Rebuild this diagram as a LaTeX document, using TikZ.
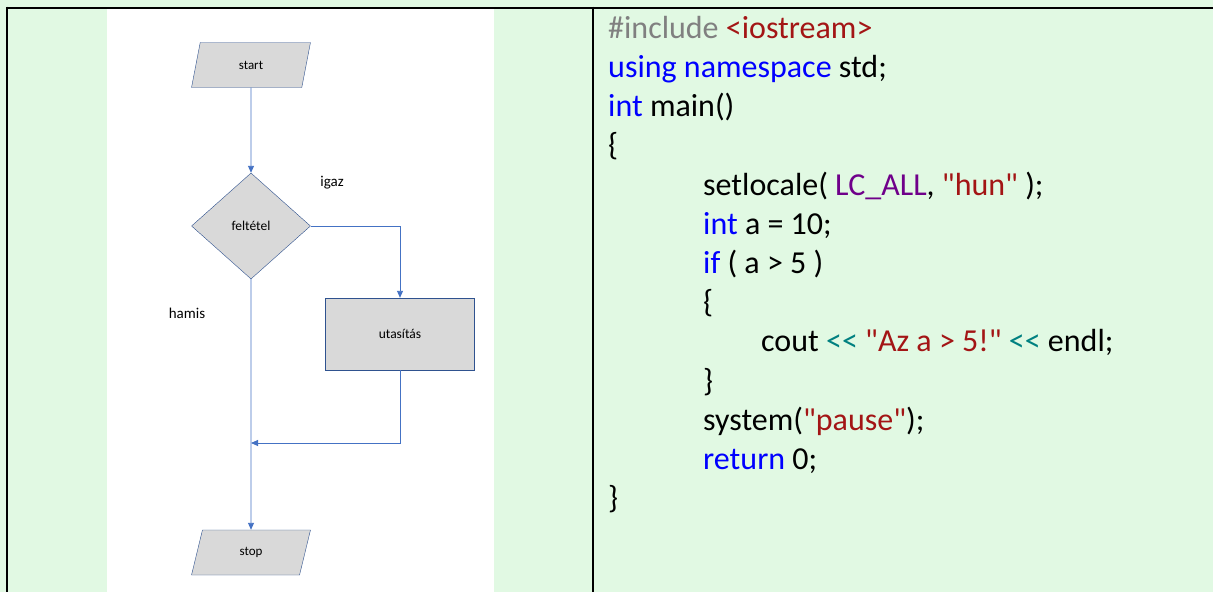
\documentclass[tikz,border=0pt]{standalone}
\usepackage{fontspec}
\setmainfont{Carlito}[Ligatures=TeXOff]
\usetikzlibrary{arrows.meta,positioning,shapes.geometric}
\definecolor{bg}{HTML}{E1F9E3}
\definecolor{ln}{HTML}{4472C4}
\definecolor{edge}{HTML}{2F528F}
\definecolor{shd}{HTML}{D9D9D9}
\definecolor{kw}{RGB}{0,0,255}
\definecolor{str}{RGB}{163,21,21}
\definecolor{pre}{RGB}{128,128,128}
\definecolor{mac}{RGB}{111,0,138}
\definecolor{op}{RGB}{0,128,128}
\tikzset{io/.style={trapezium,trapezium left angle=76,trapezium right angle=104,trapezium stretches,draw=edge,fill=shd,minimum width=119pt,minimum height=45pt,inner sep=0pt,font=\fontsize{13}{15}\selectfont},
 dec/.style={diamond,draw=edge,fill=shd,minimum width=119pt,minimum height=106pt,inner sep=0pt,font=\fontsize{13.5}{15}\selectfont},
 proc/.style={rectangle,draw=edge,fill=shd,minimum width=149pt,minimum height=72pt,inner sep=0pt,font=\fontsize{13.5}{15}\selectfont},
 flow/.style={-{Triangle[length=7pt,width=6pt]},draw=ln,line width=.9pt},
 lbl/.style={font=\fontsize{15}{17}\selectfont},
 code/.style={anchor=base west,inner sep=0pt,font=\fontsize{32}{39}\selectfont},
 frame/.style={line width=2pt,black}}

\begin{document}
\begin{tikzpicture}[x=1pt,y=-1pt]
\useasboundingbox (0,0) rectangle (1213,592);
\fill[bg] (0,0) rectangle (1213,592);
\fill[white] (107,8.7) rectangle (494,592);
\draw[frame] (6.3,7.7)--(1213,7.7);
\draw[frame] (7.3,6.7)--(7.3,592);
\draw[frame] (592.7,6.7)--(592.7,592);
% flowchart
\node[io] (start) at (251,65) {start};
\node[dec] (dia) at (251,226) {feltétel};
\node[proc] (stmt) at (400,334) {utasítás};
\node[io] (stop) at (251,552.5) {stop};
\coordinate (merge) at (251,443);
\node[lbl] (igaz) at (332,183) {igaz};
\node[lbl] (hamis) at (187,313) {hamis};
\draw[flow] (start)--(dia);
\draw[flow] (dia.east)-|(stmt.north);
\draw[flow] (stmt.south)|-(merge);
\draw[flow] (dia)--(stop);
% code
\node[code] (l1) at (608,38.3) {{\color{pre}\#include} {\color{str}<iostream>}};
\node[code] (l2) at (608,77.5) {{\color{kw}using namespace} std;};
\node[code] (l3) at (608,116.7) {{\color{kw}int} main()};
\node[code] (l4) at (608,155.9) {\{};
\node[code] (l5) at (703,195.1) {setlocale( {\color{mac}LC\_ALL}, {\color{str}"hun"} );};
\node[code] (l6) at (703,234.3) {{\color{kw}int} a = 10;};
\node[code] (l7) at (703,273.5) {{\color{kw}if} ( a > 5 )};
\node[code] (l8) at (703,312.7) {\{};
\node[code] (l9) at (761,351.9) {cout {\color{op}<<} {\color{str}"Az a > 5!"} {\color{op}<<} endl;};
\node[code] (l10) at (703,391.1) {\}};
\node[code] (l11) at (703,430.3) {system({\color{str}"pause"});};
\node[code] (l12) at (703,469.5) {{\color{kw}return} 0;};
\node[code] (l13) at (608,508.7) {\}};
\end{tikzpicture}
\end{document}
